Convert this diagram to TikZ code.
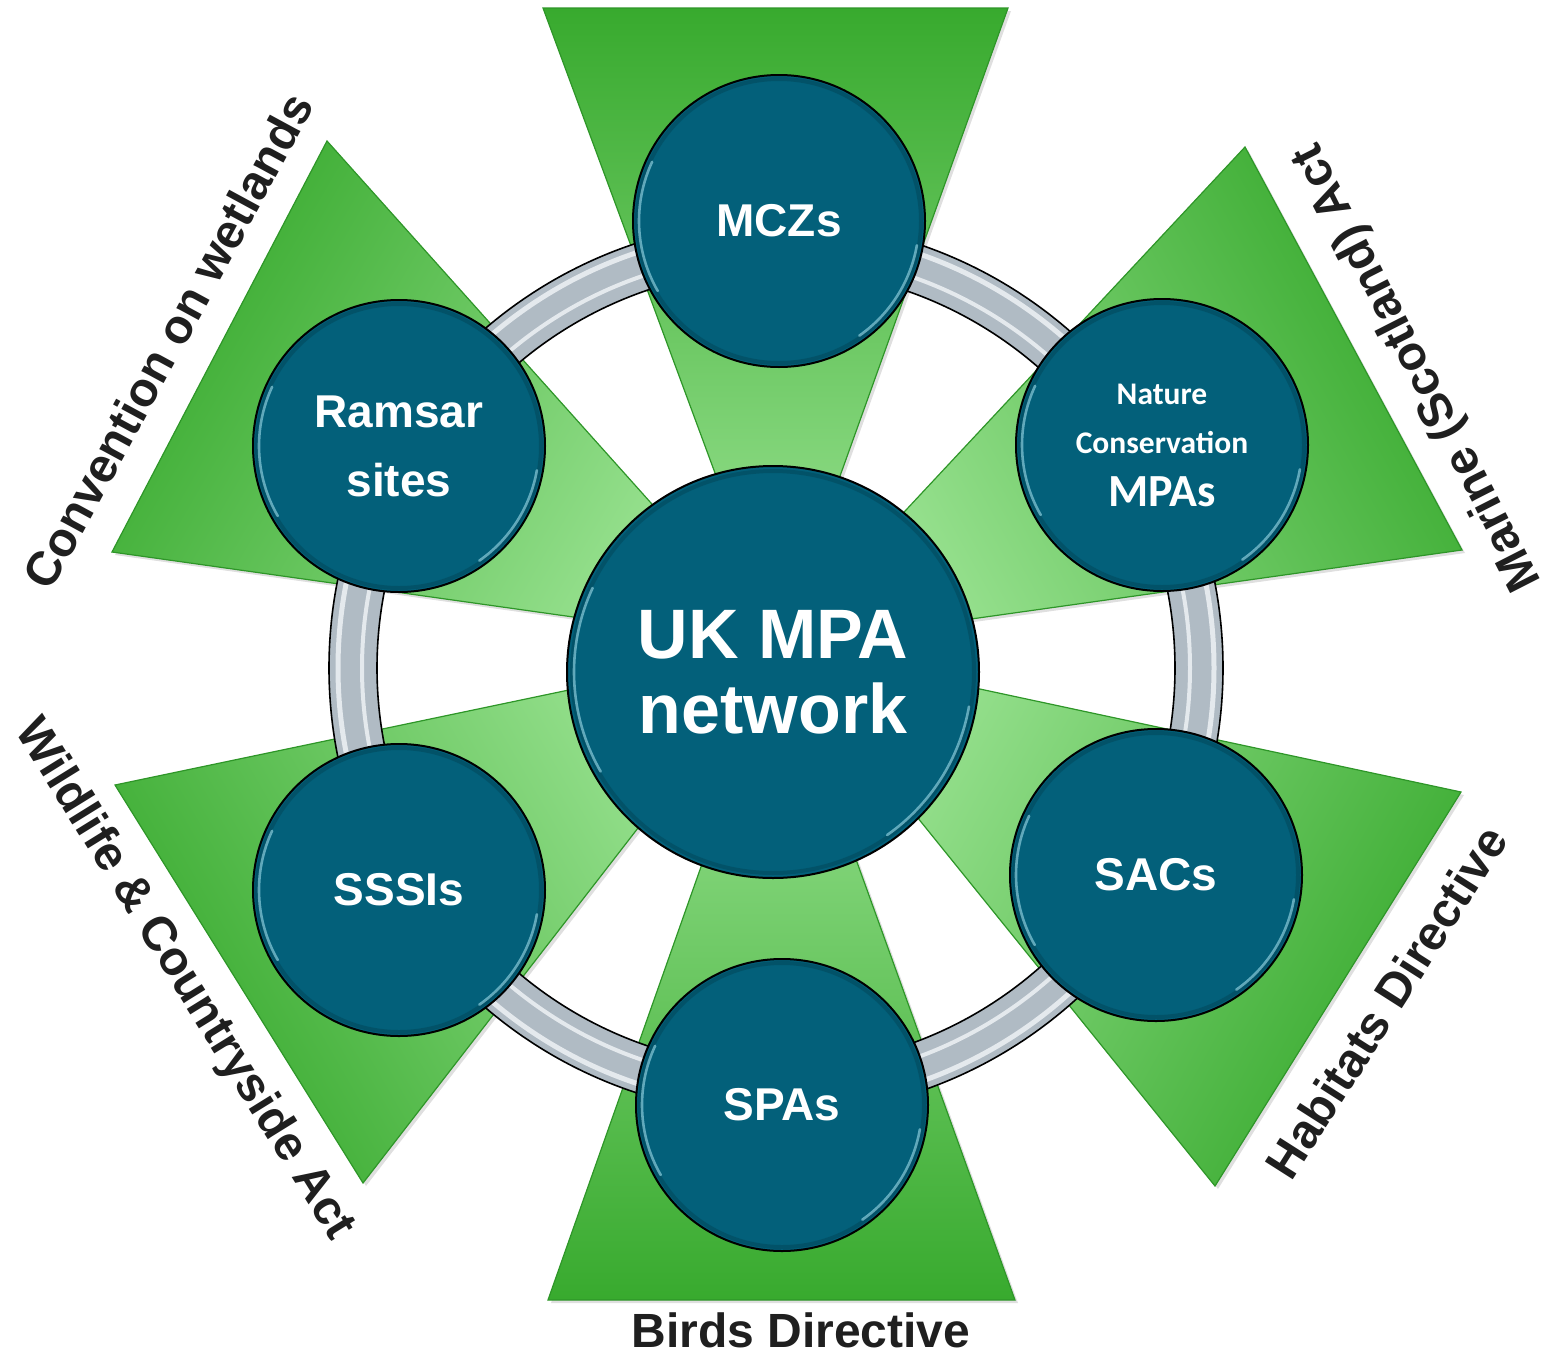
\documentclass[tikz,border=0pt]{standalone}
\usepackage{fontspec}
\setmainfont{Liberation Sans}
\newfontfamily\calib{Carlito}
\usepackage{xcolor}
\usepackage{tikz}
\usetikzlibrary{calc,positioning,shadows}

\definecolor{mpateal}{RGB}{3,96,122}
\definecolor{leafdark}{RGB}{56,170,46}
\definecolor{leaflight}{RGB}{160,230,152}
\definecolor{leafline}{RGB}{46,150,40}
\definecolor{ringgrey}{RGB}{176,187,196}
\definecolor{ringlight}{RGB}{228,233,237}
\definecolor{rimglow}{RGB}{160,222,236}

\begin{document}
\begin{tikzpicture}[x=0.5pt,y=-0.5pt,
	site/.style={circle,draw=black,line width=1pt,fill=mpateal,text=white,minimum size=146pt,inner sep=0pt,align=center,font=\bfseries\fontsize{23}{34.5}\selectfont},
	hub/.style={site,minimum size=206pt,font=\bfseries\fontsize{35}{37.5}\selectfont},
	leaf/.style={draw=leafline,line width=0.6pt,top color=leafdark,bottom color=leaflight},
	act/.style={font=\bfseries\fontsize{24}{28}\selectfont,text=black!88,inner sep=0pt},
	glow/.style={rimglow,line width=1.3pt,line cap=round,opacity=0.6},
	rim/.style={mpateal!60!black,line width=2pt,opacity=0.35}]

	\useasboundingbox (0,0) rectangle (1548,1355);
	\coordinate (tip) at (779,646);
	\coordinate (mid) at (776,668);

	% green wedges, one for each act
	\foreach \ax/\ay/\bx/\by/\ang in {543/8/1008/8/0,1245/147/1462/550/-61,1461/792/1215/1186/-119,1015/1300/548/1300/180,363/1183/115/785/120,112/552/327/141/60}
		\path[leaf,shading angle=\ang,drop shadow={shadow xshift=1.5pt,shadow yshift=-1.5pt,opacity=0.25}] (tip) -- (\ax,\ay) -- (\bx,\by) -- cycle;

	% ring linking the sites
	\draw[ringgrey,line width=24pt] (mid) circle (423);
	\draw[ringlight,line width=2.5pt] (mid) circle (438);
	\draw[ringlight,line width=2pt] (mid) circle (414);
	\draw[black,line width=0.8pt] (mid) circle (447);
	\draw[black,line width=0.8pt] (mid) circle (399);

	% sites
	\node[site] (mcz) at (779,221) {MCZs};
	\node[site] (ramsar) at (399,446) {Ramsar\\sites};
	\node[site,font=\calib\bfseries\fontsize{15.75}{24.5}\selectfont] (ncmpa) at (1162,445) {Nature\\Conservation\\[2pt]{\fontsize{23}{26}\selectfont MPAs}};
	\node[site] (sssi) at (399,890) {SSSIs};
	\node[site] (sac) at (1156,875) {SACs};
	\node[site] (spa) at (782,1105) {SPAs};
	\node[hub] (hub) at (773,672) {UK MPA\\network};

	\foreach \n/\r in {mcz/140,ramsar/140,ncmpa/140,sssi/140,sac/140,spa/140,hub/199}{
		\draw[rim] (\n.center) circle (\r+2);
		\draw[glow] ($(\n.center)+(150:\r)$) arc (150:205:\r);
		\draw[glow] ($(\n.center)+(10:\r)$) arc (10:55:\r);
	}

	% acts
	\node[act,rotate=61.5] (ramsarlaw) at (168,341) {Convention on wetlands};
	\node[act,rotate=117] (ncmpalaw) at (1418,367) {Marine (Scotland) Act};
	\node[act,rotate=-58.2] (sssilaw) at (184,980) {Wildlife \& Countryside Act};
	\node[act,rotate=57.5] (saclaw) at (1386,1002) {Habitats Directive};
	\node[act] (spalaw) at (801,1330) {Birds Directive};
\end{tikzpicture}
\end{document}
